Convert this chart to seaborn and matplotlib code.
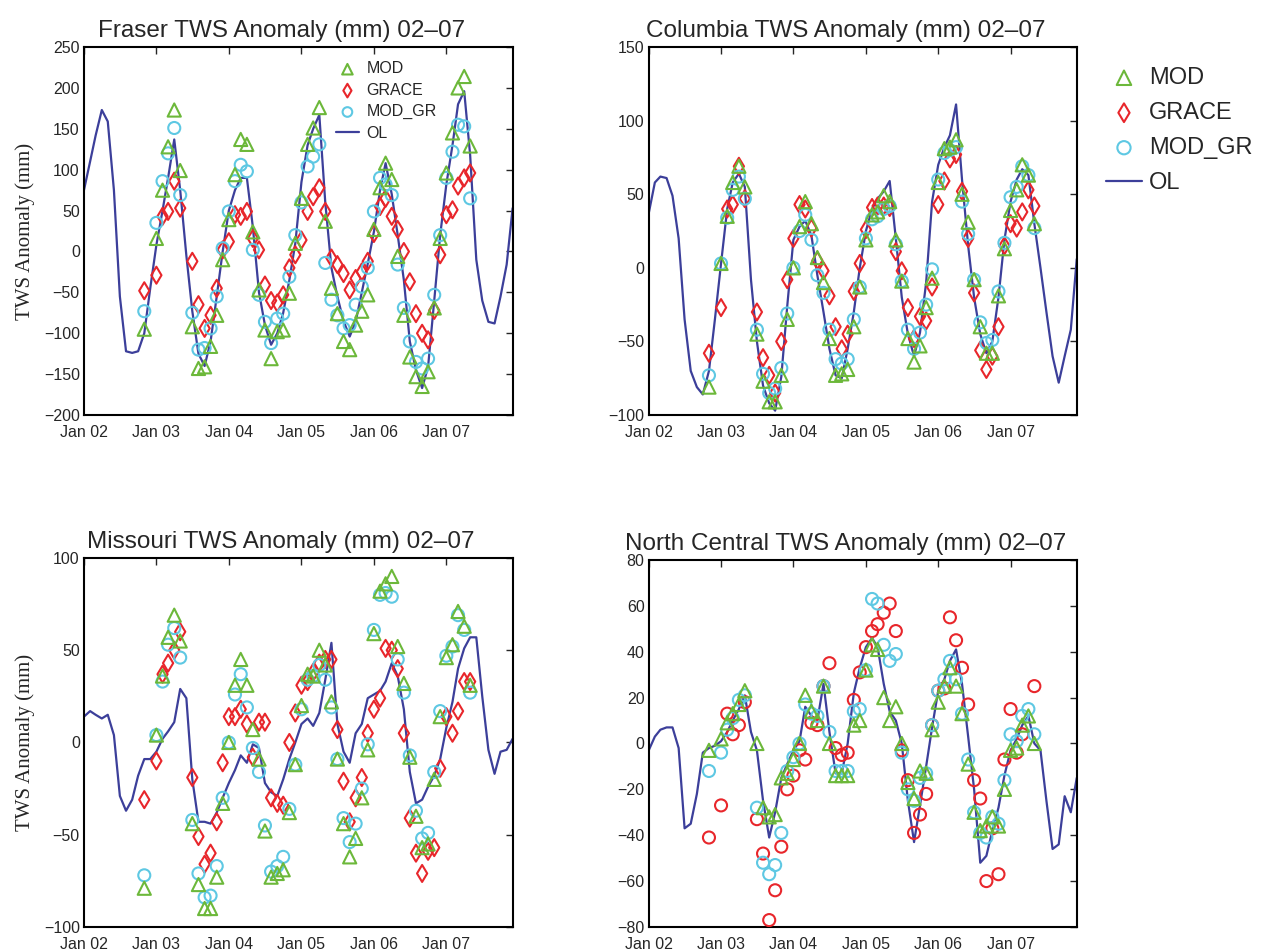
import numpy as np
import pandas as pd
import matplotlib
matplotlib.use('Agg')
import matplotlib.pyplot as plt
import matplotlib.dates as mdates
from matplotlib import font_manager
import seaborn as sns

nan = np.nan

# ---------------------------------------------------------------
# DATA
# ---------------------------------------------------------------
# OL model run: monthly, Jan 2002 .. Dec 2007
ol_months = pd.date_range('2002-01-01', '2007-12-01', freq='MS')
# assimilation / GRACE estimates: monthly, Nov 2002 .. May 2007
obs_months = pd.date_range('2002-11-01', '2007-05-01', freq='MS')

fraser_ol = [75, 110, 142, 173, 159, 75, -55, -122, -124, -122,
             -100, -45, 8, 50, 90, 137, 75, -5, -73, -125,
             -140, -110, -55, 0, 50, 75, 90, 90, 30, -50,
             -90, -114, -100, -75, -35, 10, 85, 130, 150, 167,
             60, -20, -55, -85, -104, -86, -50, -15, 24, 75,
             108, 70, 20, -35, -110, -145, -167, -141, -60, 20,
             82, 130, 180, 196, 118, -10, -60, -86, -88, -55, -16, 53]
fraser_mod = [-95, nan, 16, 75, 128, 173, 99, nan, -92, -143,
              -141, -116, -78, -10, 39, 94, 137, 131, 24, -47,
              -96, -131, -98, -96, -51, 10, 65, 131, 151, 176,
              37, -45, -76, -110, -120, -90, -73, -53, 27, 78,
              108, 88, -6, -78, -129, -153, -165, -147, -69, 16,
              96, 145, 200, 214, 129]
fraser_grace = [-48, nan, -29, 43, 49, 86, 53, nan, -12, -65,
                -94, -78, -45, 2, 12, 45, 43, 49, 16, 2,
                -41, -60, -63, -53, -20, -4, 14, 49, 67, 78,
                49, -8, -16, -27, -47, -33, -25, -12, 22, 55,
                65, 43, 27, 0, -37, -76, -100, -108, -72, -4,
                45, 51, 80, 90, 96]
fraser_modgr = [-73, nan, 35, 86, 120, 151, 69, nan, -75, -120,
                -118, -94, -55, 4, 49, 86, 106, 98, 2, -53,
                -86, -112, -82, -76, -31, 20, 60, 104, 116, 131,
                -14, -59, -78, -94, -90, -65, -43, -20, 49, 90,
                82, 69, -16, -69, -110, -135, -143, -131, -53, 20,
                90, 122, 155, 153, 65]

columbia_ol = [37, 58, 62, 61, 49, 20, -35, -70, -81, -86,
               -70, -35, 3, 40, 58, 64, 55, -8, -50, -80,
               -92, -97, -74, -26, 19, 28, 32, 22, -5, -30,
               -55, -73, -75, -55, -30, 0, 25, 40, 47, 52,
               59, 20, -20, -45, -60, -44, -10, 45, 70, 82,
               90, 111, 60, 15, -20, -45, -58, -50, -20, 19,
               45, 60, 67, 63, 30, 0, -30, -60, -78, -60, -42, 6]
columbia_mod = [-81, nan, 3, 35, 58, 69, 55, nan, -45, -77,
                -91, -91, -73, -35, 0, 28, 45, 30, 7, -10,
                -48, -73, -72, -69, -40, -13, 19, 36, 38, 49,
                45, 19, -9, -48, -64, -53, -27, -7, 58, 81,
                82, 87, 50, 31, -8, -40, -58, -58, -19, 13,
                39, 53, 70, 63, 30]
columbia_grace = [-58, nan, -27, 40, 43, 69, 47, nan, -30, -61,
                  -73, -85, -50, -8, 20, 43, 40, 27, 5, -2,
                  -19, -40, -55, -45, -16, 3, 26, 41, 42, 42,
                  41, 11, -2, -27, -48, -33, -36, -13, 43, 59,
                  74, 77, 52, 20, -17, -56, -69, -60, -40, 15,
                  30, 27, 38, 53, 42]
columbia_modgr = [-73, nan, 3, 34, 53, 62, 47, nan, -42, -72,
                  -85, -82, -68, -31, 0, 25, 36, 19, -5, -17,
                  -42, -62, -65, -62, -35, -13, 20, 33, 35, 40,
                  42, 16, -9, -42, -55, -44, -25, -1, 60, 78,
                  80, 82, 45, 23, -8, -37, -51, -49, -16, 17,
                  48, 55, 69, 63, 27]

missouri_ol = [14, 17, 15, 13, 15, 4, -29, -37, -31, -18,
               -9, -9, -5, 2, 6, 11, 29, 24, -20, -43,
               -43, -44, -38, -30, -22, -15, -7, -11, -1, -3,
               -22, -27, -29, -20, -9, 0, 10, 13, 9, 16,
               34, 54, 10, -5, -11, 5, 10, 24, 26, 28,
               33, 43, 36, 18, -16, -33, -31, -24, -18, -9,
               8, 22, 40, 51, 57, 57, 25, -4, -17, -5, -4, 2]
missouri_mod = [-79, nan, 4, 36, 57, 69, 55, nan, -44, -77,
                -90, -90, -73, -33, 0, 31, 45, 31, 7, -9,
                -48, -73, -71, -69, -38, -12, 20, 37, 36, 50,
                42, 22, -9, -44, -62, -52, -30, -4, 59, 82,
                86, 90, 52, 32, -8, -40, -57, -55, -20, 14,
                46, 53, 71, 63, 31]
missouri_grace = [-31, nan, -10, 37, 43, 50, 60, nan, -19, -51,
                  -66, -60, -43, -11, 14, 14, 18, 10, -8, 11,
                  11, -30, -33, -34, 0, 16, 31, 33, 38, 43,
                  45, 45, 7, -21, -43, -30, -19, 5, 18, 24,
                  51, 50, 40, 5, -41, -60, -71, -59, -57, -14,
                  14, 5, 17, 33, 33]
missouri_modgr = [-72, nan, 4, 33, 53, 62, 46, nan, -42, -71,
                  -84, -83, -67, -30, 0, 26, 37, 19, -3, -16,
                  -45, -70, -67, -62, -36, -12, 18, 34, 36, 42,
                  34, 19, -9, -41, -54, -44, -25, -1, 61, 80,
                  81, 79, 45, 27, -7, -37, -52, -49, -16, 17,
                  47, 52, 69, 61, 27]

ncentral_ol = [-3, 3, 6, 7, 7, -2, -37, -35, -22, -4,
               -2, -1, 1, 5, 10, 15, 21, 5, -3, -25,
               -41, -30, -15, -9, -3, 1, 16, 12, 10, 26,
               5, -13, -13, 0, 22, 33, 42, 46, 42, 26,
               14, 10, 0, -25, -43, -27, -10, 7, 23, 28,
               36, 41, 26, 3, -20, -52, -49, -38, -28, -14,
               -3, 2, 8, 12, 0, -3, -25, -46, -44, -23, -30, -15]
ncentral_mod = [-3, nan, 2, 9, 13, 17, 23, nan, 0, -28,
                -32, -31, -15, -13, -7, 0, 21, 14, 10, 25,
                0, -14, -14, -14, 8, 10, 32, 43, 41, 20,
                10, 16, 0, -17, -24, -12, -13, 6, 18, 25,
                33, 25, 13, -9, -30, -38, -36, -32, -36, -20,
                -3, -2, 8, 12, 0]
ncentral_grace = [-41, nan, -27, 13, 4, 8, 18, nan, -33, -48,
                  -77, -64, -45, -20, -14, -3, -7, 9, 8, 25,
                  35, -2, -5, -4, 19, 31, 42, 49, 52, 57,
                  61, 49, -3, -16, -39, -31, -22, 8, 23, 24,
                  55, 45, 33, 17, -16, -24, -60, -37, -57, -7,
                  15, -4, 4, nan, 25]
ncentral_modgr = [-12, nan, -4, 6, 11, 19, 21, nan, -28, -52,
                  -57, -53, -39, -12, -6, 0, 17, 13, 12, 25,
                  5, -12, -12, -12, 14, 15, 32, 63, 61, 43,
                  36, 39, -4, -20, -25, -15, -13, 8, 23, 28,
                  36, 28, 13, -7, -30, -39, -41, -32, -35, -16,
                  4, 1, 12, 15, 4]

titles = ['Fraser TWS Anomaly (mm) 02\u201307',
          'Columbia TWS Anomaly (mm) 02\u201307',
          'Missouri TWS Anomaly (mm) 02\u201307',
          'North Central TWS Anomaly (mm) 02\u201307']
ylims = [(-200, 250), (-100, 150), (-100, 100), (-80, 80)]
ysteps = [50, 50, 50, 20]

# ---------------------------------------------------------------
# STYLE
# ---------------------------------------------------------------
c_mod = '#6cb83a'
c_grace = '#e8262b'
c_modgr = '#5ec8e3'
c_ol = '#3c3f9a'

sns.set_style('white')
_names = {f.name for f in font_manager.fontManager.ttflist}
if 'Liberation Sans Narrow' in _names:
    sans = 'Liberation Sans Narrow'
    fs_tick, fs_title, fs_leg1, fs_leg2 = 13, 20, 12, 19
else:
    sans = 'Liberation Sans'
    fs_tick, fs_title, fs_leg1, fs_leg2 = 11.5, 17.5, 11.5, 17
plt.rcParams['font.family'] = [sans, 'DejaVu Sans']

fig = plt.figure(figsize=(12.72, 9.52), dpi=100)
positions = [[0.066, 0.564, 0.337, 0.3866],
             [0.510, 0.564, 0.3365, 0.3866],
             [0.066, 0.0263, 0.337, 0.3876],
             [0.510, 0.0263, 0.3365, 0.3855]]

panels = [(fraser_ol, fraser_mod, fraser_grace, fraser_modgr),
          (columbia_ol, columbia_mod, columbia_grace, columbia_modgr),
          (missouri_ol, missouri_mod, missouri_grace, missouri_modgr),
          (ncentral_ol, ncentral_mod, ncentral_grace, ncentral_modgr)]

axes = []
for i, (ol, mod, grace, modgr) in enumerate(panels):
    ax = fig.add_axes(positions[i])
    axes.append(ax)
    sns.lineplot(x=ol_months, y=ol, ax=ax, color=c_ol, lw=1.6,
                 label='OL', legend=False)
    gmark = 'o' if i == 3 else 'd'
    sns.scatterplot(x=obs_months, y=grace, ax=ax, marker=gmark, s=75,
                    facecolor='none', edgecolor=c_grace, linewidth=1.5,
                    label='GRACE', legend=False, zorder=3)
    sns.scatterplot(x=obs_months, y=modgr, ax=ax, marker='o', s=75,
                    facecolor='none', edgecolor=c_modgr, linewidth=1.5,
                    label='MOD_GR', legend=False, zorder=3)
    sns.scatterplot(x=obs_months, y=mod, ax=ax, marker='^', s=90,
                    facecolor='none', edgecolor=c_mod, linewidth=1.5,
                    label='MOD', legend=False, zorder=3)

    ax.set_xlim(pd.Timestamp('2002-01-01'), pd.Timestamp('2007-12-01'))
    ax.set_ylim(*ylims[i])
    ax.set_yticks(np.arange(ylims[i][0], ylims[i][1] + 1, ysteps[i]))
    ax.xaxis.set_major_locator(mdates.YearLocator())
    ax.xaxis.set_major_formatter(mdates.DateFormatter('Jan %y'))
    ax.tick_params(direction='in', top=True, right=True, length=5,
                   width=1, labelsize=fs_tick)
    ax.tick_params(axis='x', pad=7)
    ax.tick_params(axis='y', pad=3)
    for sp in ax.spines.values():
        sp.set_color('black')
        sp.set_linewidth(1.5)
    ax.set_xlabel('')
    ax.set_title(titles[i], fontsize=fs_title, x=0.46, pad=7)
    if i in (0, 2):
        ax.set_ylabel('TWS Anomaly (mm)', fontsize=15,
                      fontfamily='Liberation Serif', labelpad=6)
    else:
        ax.set_ylabel('')

order = ['MOD', 'GRACE', 'MOD_GR', 'OL']
h, l = axes[0].get_legend_handles_labels()
hd = dict(zip(l, h))
axes[0].legend([hd[k] for k in order], order, loc='upper left',
               bbox_to_anchor=(0.555, 1.0), frameon=False, fontsize=fs_leg1,
               handlelength=1.4, handletextpad=0.5, labelspacing=0.4,
               markerscale=0.8)

h, l = axes[1].get_legend_handles_labels()
hd = dict(zip(l, h))
fig.legend([hd[k] for k in order], order, loc='upper left',
           bbox_to_anchor=(0.853, 0.952), frameon=False, fontsize=fs_leg2,
           handlelength=1.5, handletextpad=0.3, labelspacing=0.55,
           markerscale=1.1)

fig.savefig('out.png', dpi=100)
